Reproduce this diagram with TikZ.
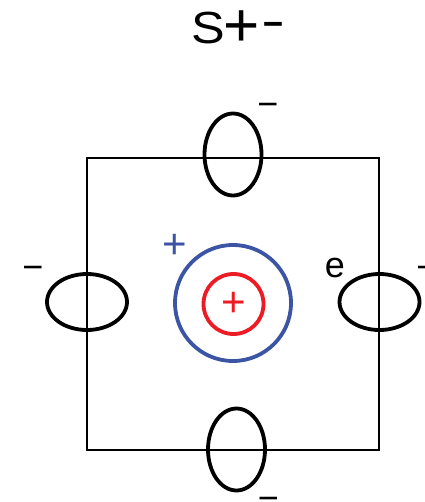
\documentclass[tikz,border=0pt]{standalone}
\usepackage{fontspec}
\usepackage{graphicx}
\setmainfont{Liberation Sans}
\definecolor{pblue}{RGB}{59,84,164}
\definecolor{pred}{RGB}{237,28,36}
\begin{document}
\begin{tikzpicture}[x=1pt,y=-1pt,
  orbit/.style={draw=black,line width=3.8pt},
  lbl/.style={inner sep=0pt,font=\fontsize{36}{36}\selectfont},
  mlbl/.style={inner sep=0pt,anchor=base,font=\fontsize{36}{36}\selectfont},
  plbl/.style={inner sep=0pt,font=\fontsize{42}{42}\selectfont},
  ttl/.style={inner sep=0pt}]
\useasboundingbox (0,0) rectangle (424,502);
\node[ttl,font=\fontsize{45}{45}\selectfont] (tS) at (208,28) {\scalebox{1.12}[1]{S}};
\node[ttl,font=\fontsize{62}{62}\selectfont] (tp) at (242,29) {+};
\node[ttl,anchor=base,font=\fontsize{45}{45}\selectfont] (tm) at (273,37.5) {\scalebox{1.6}[1.1]{-}};
\node[draw=black,line width=1.6pt,minimum width=292pt,minimum height=292pt,inner sep=0pt] (sq) at (233,304) {};
\draw[orbit] (87,302) ellipse [x radius=40, y radius=28];
\draw[orbit] (379.5,302) ellipse [x radius=40, y radius=28];
\draw[orbit] (233,154.5) ellipse [x radius=28.5, y radius=41];
\draw[orbit] (236.5,449.5) ellipse [x radius=28.5, y radius=41];
\node[circle,draw=pblue,line width=3.8pt,minimum size=116pt,inner sep=0pt] (outer) at (233,303) {};
\node[circle,draw=pred,line width=3.8pt,minimum size=60pt,inner sep=0pt] (inner) at (233.5,304) {};
\node[plbl,text=pred] (rp) at (233.5,304) {+};
\node[plbl,text=pblue] (bp) at (175,246) {+};
\node[mlbl] (mt) at (268,116.5) {−};
\node[mlbl] (ml) at (33,279.5) {−};
\node[lbl] (e) at (335,268) {e};
\node[mlbl] (mr) at (427,279.5) {−};
\node[mlbl] (mb) at (268.5,510.5) {−};
\end{tikzpicture}
\end{document}
